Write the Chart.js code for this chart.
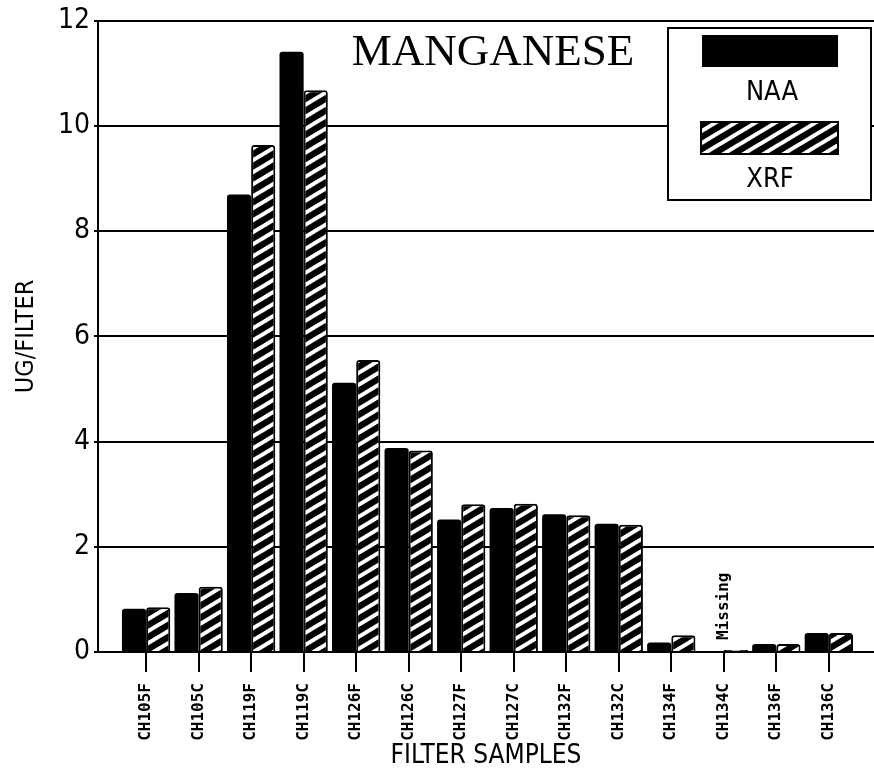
<!DOCTYPE html>
<html>
<head>
<meta charset="utf-8">
<script src="https://cdn.jsdelivr.net/npm/chart.js@4.4.1/dist/chart.umd.min.js"></script>
<style>
  html, body { margin: 0; padding: 0; background: #fff; }
  #wrap { width: 874px; height: 772px; position: relative; background: #fff; }
</style>
</head>
<body>
<div id="wrap"><canvas id="mnChart"></canvas></div>
<script>
// サンプル名
const categories = ['CH105F', 'CH105C', 'CH119F', 'CH119C', 'CH126F', 'CH126C', 'CH127F',
    'CH127C', 'CH132F', 'CH132C', 'CH134F', 'CH134C', 'CH136F', 'CH136C'];
// NAA (UG/FILTER) - CH134C は欠測
const naaValues = [0.82, 1.12, 8.70, 11.41, 5.12, 3.88, 2.52, 2.74, 2.62, 2.44, 0.18, null, 0.15, 0.36];
// XRF (UG/FILTER)
const xrfValues = [0.85, 1.24, 9.64, 10.68, 5.55, 3.83, 2.81, 2.82, 2.60, 2.42, 0.32, 0.04, 0.15, 0.36];
// Y軸目盛り
const yTicks = [0, 2, 4, 6, 8, 10, 12];
// 欠測の注記
const missingIndex = 11;
const missingText = 'Missing';

const narrowFont = '"Liberation Sans Narrow", "DejaVu Sans Condensed", "Liberation Sans", sans-serif';
const monoFont = '"DejaVu Sans Mono", "Liberation Mono", monospace';

/**
 * 斜線ハッチのパターンを作成
 */
function makeHatch() {
    const c = document.createElement('canvas');
    c.width = 20;
    c.height = 12;
    const g = c.getContext('2d');
    g.fillStyle = '#000';
    g.fillRect(0, 0, 20, 12);
    g.strokeStyle = '#fff';
    g.lineWidth = 4;
    for (const d of [-12, 0, 12]) {
        g.beginPath();
        g.moveTo(-2, 13.2 + d);
        g.lineTo(22, -1.2 + d);
        g.stroke();
    }
    return g.createPattern(c, 'repeat');
}

const hatch = makeHatch();

// タイトル・凡例・注記を描くプラグイン
const overlayPlugin = {
    id: 'overlay',
    afterDraw(chart) {
        const ctx = chart.ctx;
        const xs = chart.scales.x;
        const ys = chart.scales.y;
        ctx.save();
        // タイトル
        ctx.fillStyle = '#000';
        ctx.font = '45px "Liberation Serif", "Times New Roman", serif';
        ctx.textAlign = 'center';
        ctx.textBaseline = 'alphabetic';
        ctx.fillText('MANGANESE', 493, 65);

        // 凡例ボックス
        ctx.fillStyle = '#fff';
        ctx.fillRect(668, 28, 203, 172);
        ctx.strokeStyle = '#000';
        ctx.lineWidth = 2;
        ctx.strokeRect(668, 28, 203, 172);
        const ds = chart.data.datasets;
        ctx.fillStyle = ds[0].backgroundColor;
        ctx.fillRect(702, 35, 136, 32);
        ctx.fillStyle = ds[1].backgroundColor;
        ctx.fillRect(701, 122, 137, 32);
        ctx.strokeRect(701, 122, 137, 32);
        ctx.fillStyle = '#000';
        ctx.font = '27px ' + narrowFont;
        ctx.textBaseline = 'middle';
        ctx.fillText(ds[0].label, 772, 93);
        ctx.fillText(ds[1].label, 770, 180);

        // 欠測注記
        const mx = xs.getPixelForValue(missingIndex);
        const my = ys.getPixelForValue(0) - 12;
        ctx.translate(mx, my);
        ctx.rotate(-Math.PI / 2);
        ctx.font = 'bold 16px ' + monoFont;
        ctx.textAlign = 'left';
        ctx.fillText(missingText, 0, 0);
        ctx.restore();
    }
};

function createChart() {
    const ctx = document.getElementById('mnChart').getContext('2d');
    new Chart(ctx, {
        type: 'bar',
        data: {
            datasets: [{
                label: 'NAA',
                data: naaValues.map((v, i) => ({ x: i, y: v })),
                backgroundColor: '#000',
                borderWidth: 0,
                borderRadius: 3
            }, {
                label: 'XRF',
                data: xrfValues.map((v, i) => ({ x: i, y: v })),
                backgroundColor: hatch,
                borderColor: '#000',
                borderWidth: 2,
                borderRadius: 3
            }]
        },
        options: {
            responsive: true,
            maintainAspectRatio: false,
            animation: false,
            categoryPercentage: 0.92,
            barPercentage: 1.0,
            layout: { padding: { top: 17, right: 0, bottom: 0, left: 0 } },
            plugins: {
                legend: { display: false },
                tooltip: { enabled: false }
            },
            scales: {
                x: {
                    type: 'linear',
                    min: -0.916,
                    max: 13.86,
                    offset: false,
                    afterBuildTicks: (scale) => {
                        scale.ticks = categories.map((c, i) => ({ value: i }));
                    },
                    afterFit: (scale) => { scale.height = 120; },
                    grid: {
                        offset: false,
                        drawOnChartArea: false,
                        drawTicks: true,
                        tickLength: 20,
                        color: '#000',
                        lineWidth: 2
                    },
                    border: { display: true, color: '#000', width: 2 },
                    ticks: {
                        autoSkip: false,
                        minRotation: 90,
                        maxRotation: 90,
                        padding: 11,
                        color: '#000',
                        font: { family: monoFont, size: 16, weight: 'bold' },
                        callback: (value) => categories[value]
                    },
                    title: {
                        display: true,
                        text: 'FILTER SAMPLES',
                        color: '#000',
                        font: { family: narrowFont, size: 26 },
                        padding: { top: -2, bottom: 0 }
                    }
                },
                y: {
                    min: 0,
                    max: 12,
                    afterBuildTicks: (scale) => {
                        scale.ticks = yTicks.map(v => ({ value: v }));
                    },
                    afterFit: (scale) => { scale.width = 98; },
                    grid: {
                        color: '#000',
                        lineWidth: 2,
                        drawTicks: true,
                        tickLength: 4
                    },
                    border: { display: true, color: '#000', width: 2 },
                    ticks: {
                        padding: 4,
                        color: '#000',
                        font: { family: narrowFont, size: 28 }
                    },
                    title: {
                        display: true,
                        text: 'UG/FILTER',
                        color: '#000',
                        font: { family: narrowFont, size: 25 },
                        padding: { top: 11, bottom: 0 }
                    }
                }
            }
        },
        plugins: [overlayPlugin]
    });
}

createChart();
</script>
</body>
</html>
